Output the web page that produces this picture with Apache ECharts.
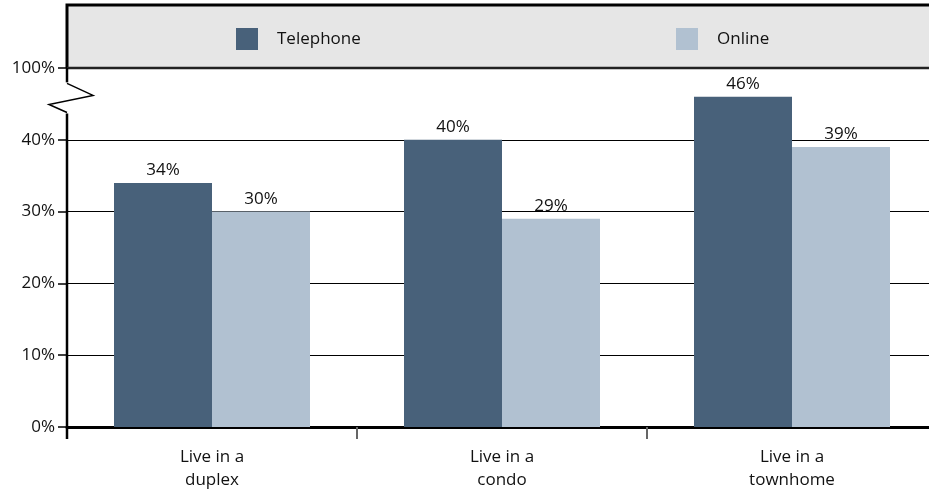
<!DOCTYPE html>
<html>
<head>
<meta charset="utf-8">
<script src="https://cdn.jsdelivr.net/npm/echarts@6/dist/echarts.min.js"></script>
<style>
html,body{margin:0;padding:0;background:#fff;}
#chart{width:929px;height:489px;}
</style>
</head>
<body>
<div id="chart"></div>
<script>
// Survey responses by housing type, split by survey mode
const categories = ['Live in a\nduplex', 'Live in a\ncondo', 'Live in a\ntownhome'];
const telephone = [34, 40, 46];
const online = [30, 29, 39];
// The top tick stands for 100% above a scale break
const yTickLabels = {0: '0%', 10: '10%', 20: '20%', 30: '30%', 40: '40%', 50: '100%'};

const FONT = '"Open Sans", Lato, sans-serif';
const FS = 17;
const DARK = '#48617a';
const LIGHT = '#b1c1d1';
const GRID = {left: 67, right: -8, top: 68, bottom: 62};

const chart = echarts.init(document.getElementById('chart'));

const labelStyle = {
  show: true, position: 'top', distance: 4,
  formatter: p => p.value + '%', color: '#111', fontSize: FS, fontFamily: FONT
};

const legendText = {fontSize: FS, fontFamily: FONT, color: '#111', padding: [0, 0, 0, 14]};

chart.setOption({
  animation: false,
  grid: Object.assign({outerBoundsMode: 'none', containLabel: false}, GRID),
  legend: [
    {data: ['Telephone'], left: 231, top: 23, itemWidth: 22, itemHeight: 22, icon: 'rect', textStyle: legendText},
    {data: ['Online'], left: 671, top: 23, itemWidth: 22, itemHeight: 22, icon: 'rect', textStyle: legendText}
  ],
  xAxis: {
    type: 'category', data: categories,
    axisLine: {lineStyle: {color: '#000', width: 3}},
    axisTick: {show: true, length: 12, lineStyle: {color: '#666', width: 2}},
    axisLabel: {fontSize: FS, fontFamily: FONT, color: '#111', margin: 19, lineHeight: 23}
  },
  yAxis: {
    type: 'value', min: 0, max: 50, interval: 10,
    axisLine: {show: false},
    axisTick: {show: true, length: 9, lineStyle: {color: '#000', width: 1.5}},
    axisLabel: {fontSize: FS, fontFamily: FONT, color: '#111', margin: 12,
      formatter: v => yTickLabels[v]},
    splitLine: {lineStyle: {color: '#000', width: 1}}
  },
  series: [
    {name: 'Telephone', type: 'bar', data: telephone, barWidth: 98, barGap: '0%',
     itemStyle: {color: DARK}, label: labelStyle},
    {name: 'Online', type: 'bar', data: online, barWidth: 98,
     itemStyle: {color: LIGHT}, label: labelStyle}
  ]
});

// Legend panel, y axis with scale break
const yTop = chart.convertToPixel({yAxisIndex: 0}, 50);
const yZero = chart.convertToPixel({yAxisIndex: 0}, 0);
const yBreakTop = chart.convertToPixel({yAxisIndex: 0}, 48);
const yBreakBottom = chart.convertToPixel({yAxisIndex: 0}, 43.8);
const xL = GRID.left;
const xR = 940;
const mid = (yBreakTop + yBreakBottom) / 2;

chart.setOption({
  graphic: [
    {type: 'rect', z: -1, shape: {x: xL, y: 5, width: xR - xL, height: yTop - 5},
     style: {fill: '#e6e6e6'}},
    {type: 'polyline', z: 10, shape: {points: [[xL, yTop], [xL, 5], [xR, 5]]},
     style: {stroke: '#000', lineWidth: 3, fill: null}},
    {type: 'line', z: 10, shape: {x1: xL, y1: yTop, x2: xR, y2: yTop},
     style: {stroke: '#222', lineWidth: 2.5}},
    {type: 'line', z: 10, shape: {x1: xL, y1: yTop, x2: xL, y2: yBreakTop},
     style: {stroke: '#000', lineWidth: 2.5}},
    {type: 'polyline', z: 10,
     shape: {points: [[xL, yBreakTop + 1], [xL + 26, mid - 2], [xL - 18, mid + 7], [xL, yBreakBottom]]},
     style: {stroke: '#000', lineWidth: 1.5, fill: null}},
    {type: 'line', z: 10, shape: {x1: xL, y1: yBreakBottom + 1, x2: xL, y2: yZero + 12},
     style: {stroke: '#000', lineWidth: 2.5}}
  ]
});
</script>
</body>
</html>
